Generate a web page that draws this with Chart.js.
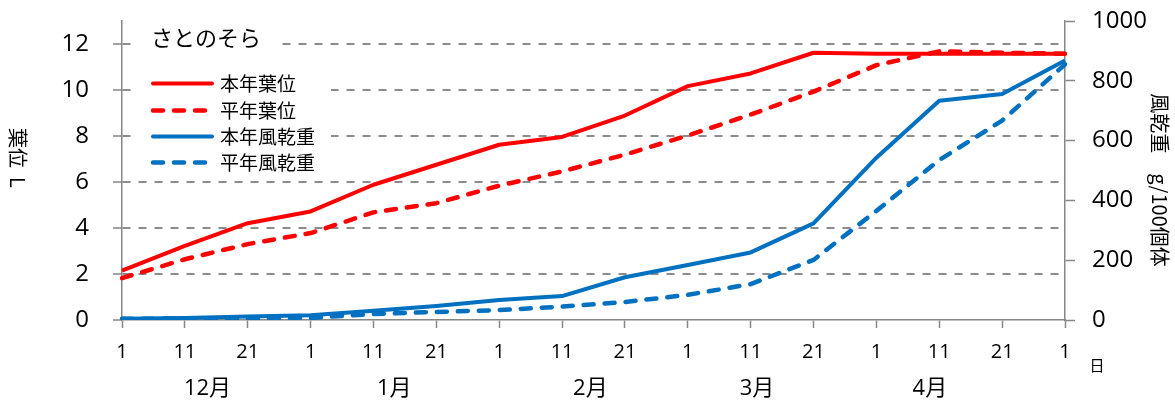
<!DOCTYPE html>
<html>
<head>
<meta charset="utf-8">
<script src="https://cdn.jsdelivr.net/npm/chart.js@4/dist/chart.umd.min.js"></script>
<style>
  html, body { margin: 0; padding: 0; background: #fff; overflow: hidden; }
  canvas { display: block; }
</style>
</head>
<body>
<canvas id="c" width="1175" height="403"></canvas>
<script>
// Day-of-month ticks, 1 Dec .. 1 May (every 10 days)
const dayLabels = ['1', '11', '21', '1', '11', '21', '1', '11', '21', '1', '11', '21', '1', '11', '21', '1'];
const monthLabels = ['12月', '1月', '2月', '3月', '4月'];
const monthLabelAt = [1.36, 4.33, 7.45, 10.1, 12.85];

// Leaf number (left axis)
const leafThisYear = [2.15, 3.22, 4.21, 4.72, 5.88, 6.75, 7.62, 7.96, 8.89, 10.17, 10.72, 11.62, 11.58, 11.58, 11.58, 11.58];
const leafNormal   = [1.82, 2.64, 3.30, 3.78, 4.68, 5.08, 5.84, 6.46, 7.19, 8.02, 8.93, 9.93, 11.08, 11.68, 11.62, 11.58];

// Air-dried weight, g per 100 plants (right axis)
const weightThisYear = [4, 7, 12, 16, 31, 47, 67, 80, 143, 184, 226, 323, 543, 733, 756, 868];
const weightNormal   = [4, 5, 5, 7, 20, 27, 33, 45, 60, 84, 120, 201, 365, 535, 667, 855];

const leftTicks = [0, 2, 4, 6, 8, 10, 12];
const rightTicks = [0, 200, 400, 600, 800, 1000];

const RED = '#ff0000';
const BLUE = '#0070c0';
const AXIS = '#868686';
const GRID = '#8c8c8c';
const LATIN = "'Open Sans', 'Noto Sans CJK JP', sans-serif";
const CJK = "'Noto Sans CJK JP', 'Open Sans', sans-serif";

Chart.defaults.font.family = LATIN;
Chart.defaults.color = '#000';

// White panel holding the variety name and series key
const keyPanel = {
  id: 'keyPanel',
  beforeDatasetsDraw(chart) {
    const ctx = chart.ctx;
    ctx.save();
    ctx.fillStyle = '#fff';
    ctx.fillRect(137, 22, 145, 40);
    ctx.fillRect(137, 64, 194, 110);
    ctx.restore();
  },
  afterDatasetsDraw(chart) {
    const ctx = chart.ctx;
    ctx.save();
    ctx.fillStyle = '#000';
    ctx.textBaseline = 'middle';
    ctx.textAlign = 'left';
    ctx.font = '22px ' + CJK;
    ctx.fillText('さとのそら', 151, 38);
    const rows = [83.5, 110.5, 136.5, 162.5];
    ctx.font = '19px ' + CJK;
    chart.data.datasets.forEach((ds, i) => {
      const y = rows[i];
      ctx.save();
      ctx.strokeStyle = ds.borderColor;
      ctx.lineWidth = ds.borderWidth;
      ctx.lineCap = 'round';
      ctx.setLineDash(ds.borderDash || []);
      ctx.beginPath();
      ctx.moveTo(153, y);
      ctx.lineTo(212, y);
      ctx.stroke();
      ctx.restore();
      ctx.fillText(ds.label, 220, y);
    });
    ctx.restore();
  }
};

// Axis titles, month names and the day unit
const axisText = {
  id: 'axisText',
  afterDraw(chart) {
    const ctx = chart.ctx;
    const x = chart.scales.x;
    ctx.save();
    ctx.fillStyle = '#000';
    ctx.textAlign = 'center';
    ctx.textBaseline = 'middle';

    ctx.font = '22px ' + LATIN;
    monthLabels.forEach((m, i) => {
      ctx.fillText(m, x.getPixelForValue(monthLabelAt[i]), 389);
    });

    ctx.font = '15px ' + CJK;
    ctx.fillText('日', 1097, 365);

    ctx.font = '20px ' + CJK;
    ctx.save();
    ctx.translate(18, 158);
    ctx.rotate(Math.PI / 2);
    ctx.fillText('葉位  L', 0, 0);
    ctx.restore();

    ctx.save();
    ctx.translate(1160, 180);
    ctx.rotate(Math.PI / 2);
    ctx.fillText('風乾重\u3000g/100個体', 0, 0);
    ctx.restore();

    ctx.restore();
  }
};

// Fixed axis bands so the plot area spans x 122..1065, y 21..320
function fixVertical(width) {
  return s => {
    s.width = width;
    s.paddingTop = 0;
    s.paddingBottom = 0;
  };
}

new Chart(document.getElementById('c'), {
  type: 'line',
  data: {
    labels: dayLabels,
    datasets: [
      { label: '本年葉位', data: leafThisYear, yAxisID: 'y', borderColor: RED, borderWidth: 4, borderDash: [], order: 4 },
      { label: '平年葉位', data: leafNormal, yAxisID: 'y', borderColor: RED, borderWidth: 4.5, borderDash: [10, 11], borderCapStyle: 'round', order: 3 },
      { label: '本年風乾重', data: weightThisYear, yAxisID: 'y1', borderColor: BLUE, borderWidth: 4, borderDash: [], order: 2 },
      { label: '平年風乾重', data: weightNormal, yAxisID: 'y1', borderColor: BLUE, borderWidth: 4.5, borderDash: [10, 11], borderCapStyle: 'round', order: 1 }
    ]
  },
  options: {
    responsive: false,
    animation: false,
    layout: { padding: { top: 21, left: 0, right: 0, bottom: 0 } },
    elements: {
      point: { radius: 0, hoverRadius: 0 },
      line: { tension: 0, fill: false, borderJoinStyle: 'round' }
    },
    plugins: {
      legend: { display: false },
      tooltip: { enabled: false },
      title: { display: false }
    },
    scales: {
      x: {
        type: 'category',
        offset: false,
        grid: { drawOnChartArea: false, drawTicks: true, tickLength: 8, tickColor: AXIS, tickWidth: 1.5 },
        border: { color: AXIS, width: 1.5 },
        ticks: { font: { size: 20 }, padding: 12, maxRotation: 0, autoSkip: false, color: '#000' },
        afterFit(s) { s.height = 83; s.paddingLeft = 0; s.paddingRight = 0; }
      },
      y: {
        position: 'left',
        min: 0,
        max: 13,
        ticks: { stepSize: 2, includeBounds: false, font: { size: 24 }, padding: 24, color: '#000', callback: v => String(v) },
        afterBuildTicks(s) { s.ticks = leftTicks.map(v => ({ value: v })); },
        grid: {
          color: c => (c.tick && c.tick.value === 0 ? 'rgba(0,0,0,0)' : GRID),
          lineWidth: 2,
          tickLength: 9,
          tickColor: AXIS,
          tickWidth: 1.5,
          tickBorderDash: []
        },
        border: { color: AXIS, width: 1.5, dash: [8, 8] },
        afterFit: fixVertical(122)
      },
      y1: {
        position: 'right',
        min: 0,
        max: 1000,
        ticks: { stepSize: 200, font: { size: 24 }, padding: 17, color: '#000', callback: v => String(v) },
        afterBuildTicks(s) { s.ticks = rightTicks.map(v => ({ value: v })); },
        grid: { drawOnChartArea: false, tickLength: 10, tickColor: AXIS, tickWidth: 1.5 },
        border: { color: AXIS, width: 1.5 },
        afterFit: fixVertical(110)
      }
    }
  },
  plugins: [keyPanel, axisText]
});
</script>
</body>
</html>
